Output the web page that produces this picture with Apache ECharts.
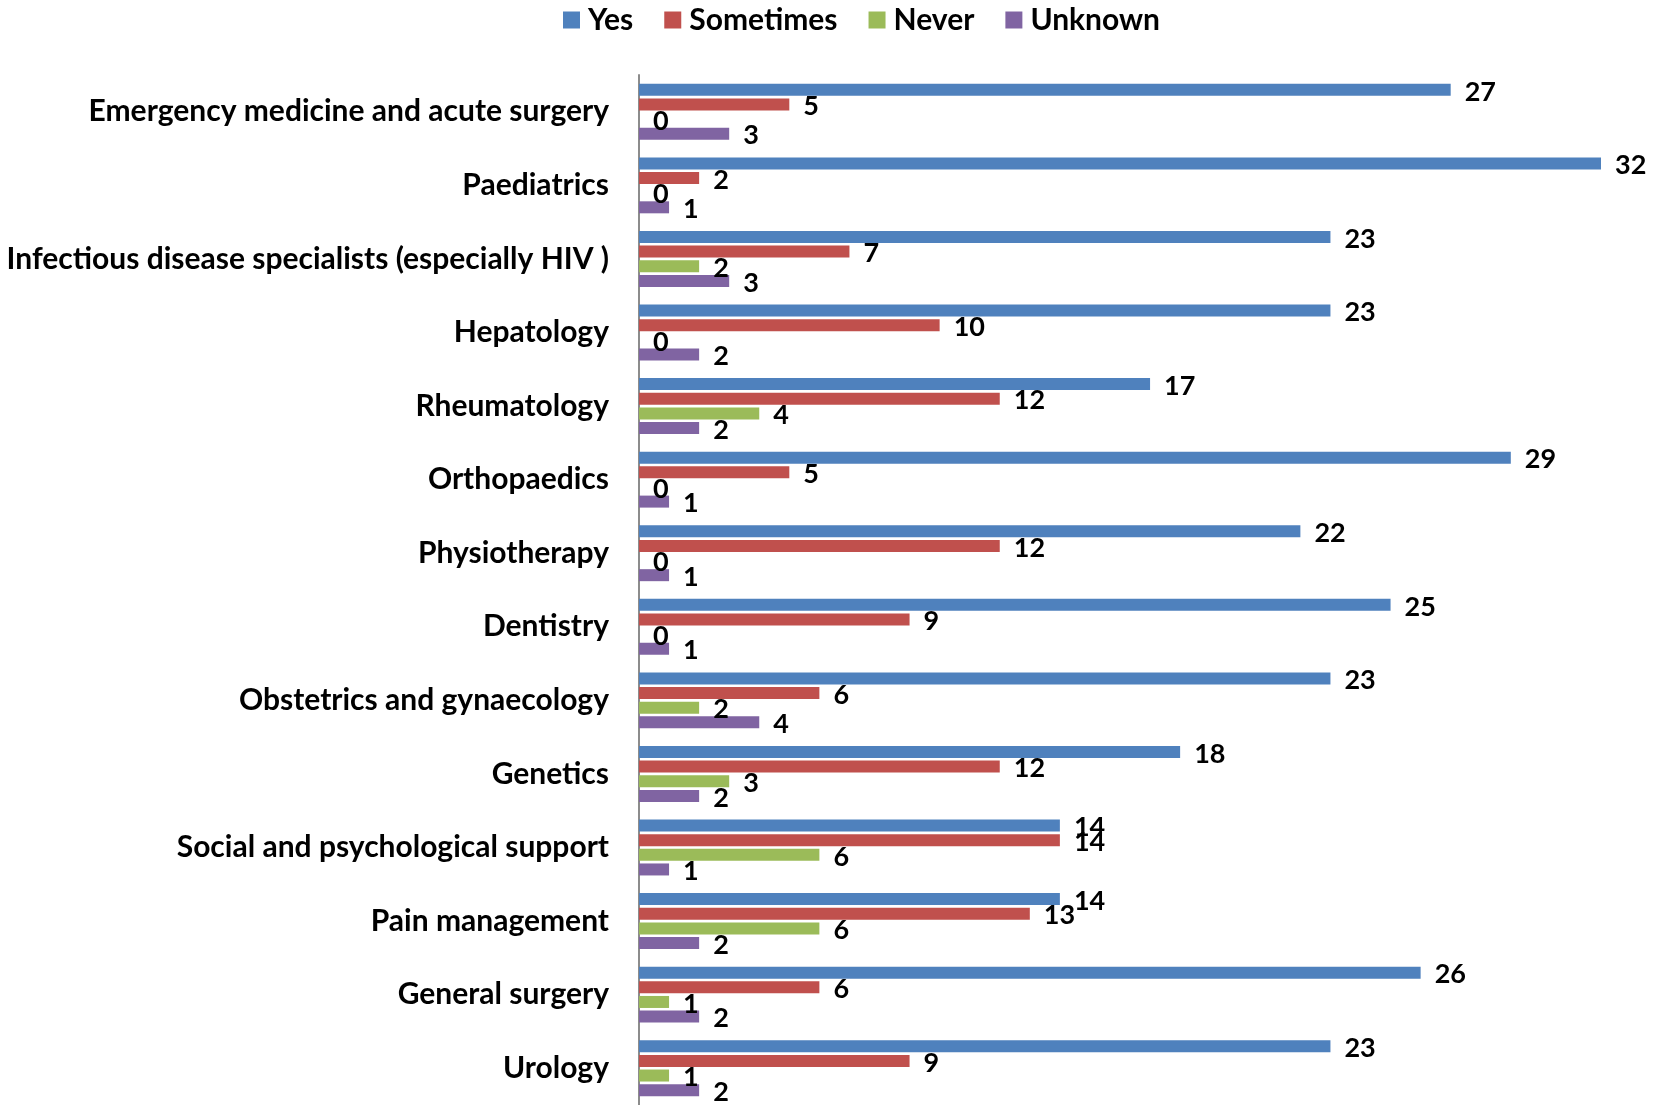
<!DOCTYPE html>
<html>
<head>
<meta charset="utf-8">
<title>Referral availability by specialty</title>
<script src="https://cdn.jsdelivr.net/npm/echarts@6/dist/echarts.min.js"></script>
<style>
  html, body { margin: 0; padding: 0; background: #ffffff; }
  #chart { width: 1661px; height: 1105px; }
</style>
</head>
<body>
<div id="chart"></div>
<script>
// Specialties, listed top to bottom
const specialties = [
  'Emergency medicine and acute surgery',
  'Paediatrics',
  'Infectious disease specialists (especially HIV )',
  'Hepatology',
  'Rheumatology',
  'Orthopaedics',
  'Physiotherapy',
  'Dentistry',
  'Obstetrics and gynaecology',
  'Genetics',
  'Social and psychological support',
  'Pain management',
  'General surgery',
  'Urology'
];

// Number of responses per answer
const yes       = [27, 32, 23, 23, 17, 29, 22, 25, 23, 18, 14, 14, 26, 23];
const sometimes = [5, 2, 7, 10, 12, 5, 12, 9, 6, 12, 14, 13, 6, 9];
const never     = [0, 0, 2, 0, 4, 0, 0, 0, 2, 3, 6, 6, 1, 1];
const unknown   = [3, 1, 3, 2, 2, 1, 1, 1, 4, 2, 1, 2, 2, 2];

const seriesNames = ['Yes', 'Sometimes', 'Never', 'Unknown'];
const seriesData = [yes, sometimes, never, unknown];
const colors = ['#4F81BD', '#C0504D', '#9BBB59', '#8064A2'];

const FONT = 'Lato, "Open Sans", sans-serif';

const chart = echarts.init(document.getElementById('chart'), null, { renderer: 'canvas' });

chart.setOption({
  animation: false,
  backgroundColor: '#ffffff',
  color: colors,
  legend: {
    top: 0,
    left: 558,
    itemWidth: 17,
    itemHeight: 17,
    itemGap: 31,
    icon: 'rect',
    textStyle: {
      fontFamily: FONT,
      fontWeight: 'bold',
      fontSize: 30,
      color: '#000000',
      padding: [0, 0, 0, 3]
    },
    data: seriesNames
  },
  grid: {
    left: 639,
    right: 60,
    top: 75,
    height: 1035,
    containLabel: false
  },
  xAxis: {
    type: 'value',
    min: 0,
    max: 32,
    show: false
  },
  yAxis: {
    type: 'category',
    inverse: true,
    data: specialties,
    axisLine: { show: true, lineStyle: { color: '#8c8c8c', width: 2 } },
    axisTick: { show: false },
    axisLabel: {
      margin: 30,
      fontFamily: FONT,
      fontWeight: 'bold',
      fontSize: 30,
      color: '#000000'
    },
    splitLine: { show: false }
  },
  series: seriesNames.map((name, i) => ({
    name: name,
    type: 'bar',
    data: seriesData[i],
    barWidth: 12,
    barGap: '22%',
    itemStyle: { color: colors[i] },
    label: {
      show: true,
      position: 'right',
      distance: 14,
      offset: [0, 2],
      fontFamily: FONT,
      fontWeight: 'bold',
      fontSize: 27,
      color: '#000000'
    }
  }))
});
</script>
</body>
</html>
